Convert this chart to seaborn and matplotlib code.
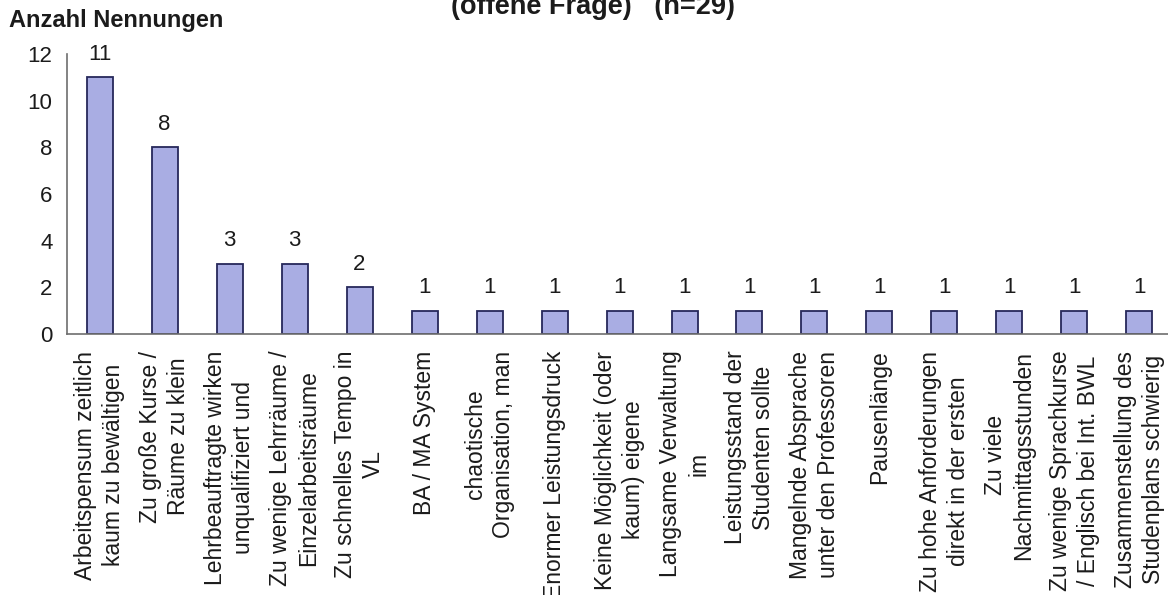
import matplotlib
matplotlib.use("Agg")
import matplotlib.pyplot as plt
import seaborn as sns
import pandas as pd

# Antworten auf die offene Frage und Anzahl der Nennungen
categories = [
    "Arbeitspensum zeitlich\nkaum zu bewältigen",
    "Zu große Kurse /\nRäume zu klein",
    "Lehrbeauftragte wirken\nunqualifiziert und",
    "Zu wenige Lehrräume /\nEinzelarbeitsräume",
    "Zu schnelles Tempo in\nVL",
    "BA / MA System",
    "chaotische\nOrganisation, man",
    "Enormer Leistungsdruck",
    "Keine Möglichkeit (oder\nkaum) eigene",
    "Langsame Verwaltung\nim",
    "Leistungsstand der\nStudenten sollte",
    "Mangelnde Absprache\nunter den Professoren",
    "Pausenlänge",
    "Zu hohe Anforderungen\ndirekt in der ersten",
    "Zu viele\nNachmittagsstunden",
    "Zu wenige Sprachkurse\n/ Englisch bei Int. BWL",
    "Zusammenstellung des\nStudenplans schwierig",
]
counts = [11, 8, 3, 3, 2, 1, 1, 1, 1, 1, 1, 1, 1, 1, 1, 1, 1]
y_ticks = [0, 2, 4, 6, 8, 10, 12]

title = "(offene Frage)   (n=29)"
y_label = "Anzahl Nennungen"

BAR_FACE = "#a9ade3"
BAR_EDGE = "#26285a"
AXIS_COL = "#6e6e6e"
TEXT_COL = "#1b1b1b"

sns.set_style("white")
plt.rcParams["font.family"] = ["Liberation Sans", "DejaVu Sans"]

df = pd.DataFrame({"Antwort": categories, "Nennungen": counts})

fig = plt.figure(figsize=(11.68, 5.95), dpi=100)
ax = fig.add_axes([0.0574, 0.4387, 0.946, 0.4706])

sns.barplot(data=df, x="Antwort", y="Nennungen", color=BAR_FACE,
            saturation=1, width=0.4, edgecolor=BAR_EDGE, linewidth=1.3, ax=ax)

ax.set_xlim(-0.5, len(categories) - 0.5)
ax.set_ylim(0, 12)
ax.set_yticks(y_ticks)
ax.set_yticklabels([str(v) for v in y_ticks], fontsize=16, color=TEXT_COL)

# category labels without ticks, separator ticks between the bars
ax.set_xticks(range(len(categories)))
ax.set_xticklabels(categories, rotation=90, fontsize=16.5, color=TEXT_COL,
                   ha="center", va="top", multialignment="center",
                   linespacing=1.32)
ax.tick_params(axis="x", which="major", length=0, pad=12)
ax.set_xticks([i + 0.5 for i in range(len(categories) - 1)], minor=True)
ax.tick_params(axis="x", which="minor", direction="inout", length=15,
               width=1.1, color=AXIS_COL)
ax.tick_params(axis="y", which="major", direction="inout", length=13,
               width=1.1, color=AXIS_COL, pad=4)

for side in ("top", "right"):
    ax.spines[side].set_visible(False)
for side in ("left", "bottom"):
    ax.spines[side].set_color(AXIS_COL)
    ax.spines[side].set_linewidth(1.2)

ax.set_xlabel("")
ax.set_ylabel("")

# value labels above every bar
for i, v in enumerate(counts):
    ax.annotate(str(v), xy=(i, v), xytext=(0, 9), textcoords="offset points",
                ha="center", va="bottom", fontsize=16, color=TEXT_COL)

fig.text(0.008, 0.966, y_label, fontsize=17, fontweight="bold",
         color=TEXT_COL, ha="left", va="center")
fig.text(0.508, 0.976, title, fontsize=19.5, fontweight="bold",
         color=TEXT_COL, ha="center", va="baseline")

fig.savefig("out.png", dpi=100, facecolor="white")
